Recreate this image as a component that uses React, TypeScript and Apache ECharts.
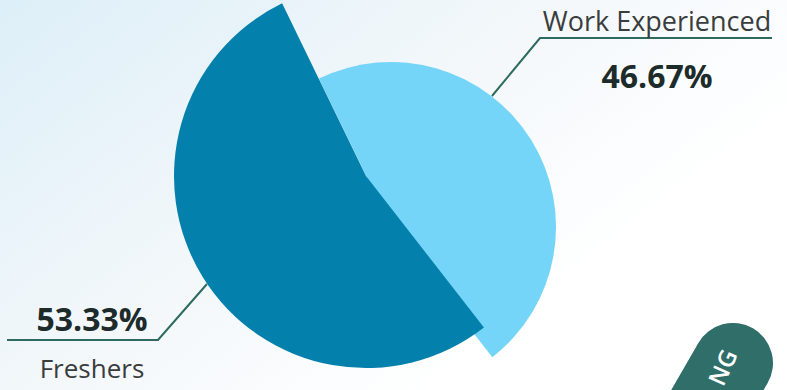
import React, { useEffect, useRef } from "react";
import * as echarts from "echarts";

// ---- data ----
const categories = ["Freshers", "Work Experienced"];
const shares = [53.33, 46.67];
const sliceColors = ["#0380AB", "#74D5F8"];
const badgeText = "NG";

const FONT = '"Open Sans", "Segoe UI", sans-serif';
const LINE_COLOR = "#2D6A60";

export default function App() {
  const ref = useRef<HTMLDivElement>(null);

  useEffect(() => {
    if (!ref.current) return;
    const chart = echarts.init(ref.current, null, { renderer: "svg" });

    const hidden = {
      itemStyle: { color: "rgba(0,0,0,0)" },
      label: { show: false },
      labelLine: { show: false },
    };

    const richRight = {
      n: { fontFamily: FONT, fontSize: 27, color: "#3A3D3D", lineHeight: 36 },
      v: { fontFamily: FONT, fontSize: 32, fontWeight: "bold", color: "#1D2B2B", lineHeight: 74 },
    };
    const richLeft = {
      v: { fontFamily: FONT, fontSize: 32, fontWeight: "bold", color: "#1D2B2B", lineHeight: 44 },
      n: { fontFamily: FONT, fontSize: 26, color: "#3A3D3D", lineHeight: 56 },
    };

    const option: any = {
      animation: false,
      backgroundColor: new echarts.graphic.LinearGradient(0, 0, 0.85, 0.55, [
        { offset: 0, color: "#DDEFF8" },
        { offset: 0.55, color: "#F2F7FA" },
        { offset: 1, color: "#FFFFFF" },
      ]),
      series: [
        {
          type: "pie",
          name: "light",
          z: 2,
          silent: true,
          center: [391, 227],
          radius: [0, 165],
          startAngle: 115.9,
          clockwise: true,
          avoidLabelOverlap: false,
          label: {
            show: true,
            formatter: "{n|{b}}\n{v|{c}%}",
            rich: richRight,
          },
          labelLine: { show: true, lineStyle: { color: LINE_COLOR, width: 2 } },
          labelLayout: () => ({
            x: 657,
            y: 2,
            align: "center",
            verticalAlign: "top",
            labelLinePoints: [
              [492, 96],
              [540, 38],
              [772, 38],
            ],
          }),
          data: [
            { name: categories[1], value: shares[1], itemStyle: { color: sliceColors[1] } },
            { name: categories[0], value: shares[0], ...hidden },
          ],
        },
        {
          type: "pie",
          name: "dark",
          z: 3,
          silent: true,
          center: [366, 176],
          radius: [0, 192],
          startAngle: -52.1,
          clockwise: true,
          avoidLabelOverlap: false,
          label: {
            show: true,
            formatter: "{v|{c}%}\n{n|{b}}",
            rich: richLeft,
          },
          labelLine: { show: true, lineStyle: { color: LINE_COLOR, width: 2 } },
          labelLayout: () => ({
            x: 92,
            y: 296,
            align: "center",
            verticalAlign: "top",
            labelLinePoints: [
              [207, 284],
              [158, 340],
              [7, 340],
            ],
          }),
          data: [
            { name: categories[0], value: shares[0], itemStyle: { color: sliceColors[0] } },
            { name: categories[1], value: shares[1], ...hidden },
          ],
        },
      ],
      graphic: [
        {
          type: "group",
          x: 733,
          y: 363,
          silent: true,
          children: [
            {
              type: "rect",
              rotation: (-30 * Math.PI) / 180,
              shape: { x: -40, y: -40, width: 80, height: 300, r: 40 },
              style: { fill: "#2F6E69" },
            },
            {
              type: "text",
              x: -11,
              y: 4,
              rotation: (66 * Math.PI) / 180,
              style: {
                text: badgeText,
                fill: "#FFFFFF",
                font: `600 24px ${FONT}`,
                align: "center",
                verticalAlign: "middle",
              },
            },
          ],
        },
      ],
    };

    chart.setOption(option);
    return () => chart.dispose();
  }, []);

  return (
    <div
      ref={ref}
      style={{ position: "fixed", left: 0, top: 0, width: 787, height: 390 }}
    />
  );
}
